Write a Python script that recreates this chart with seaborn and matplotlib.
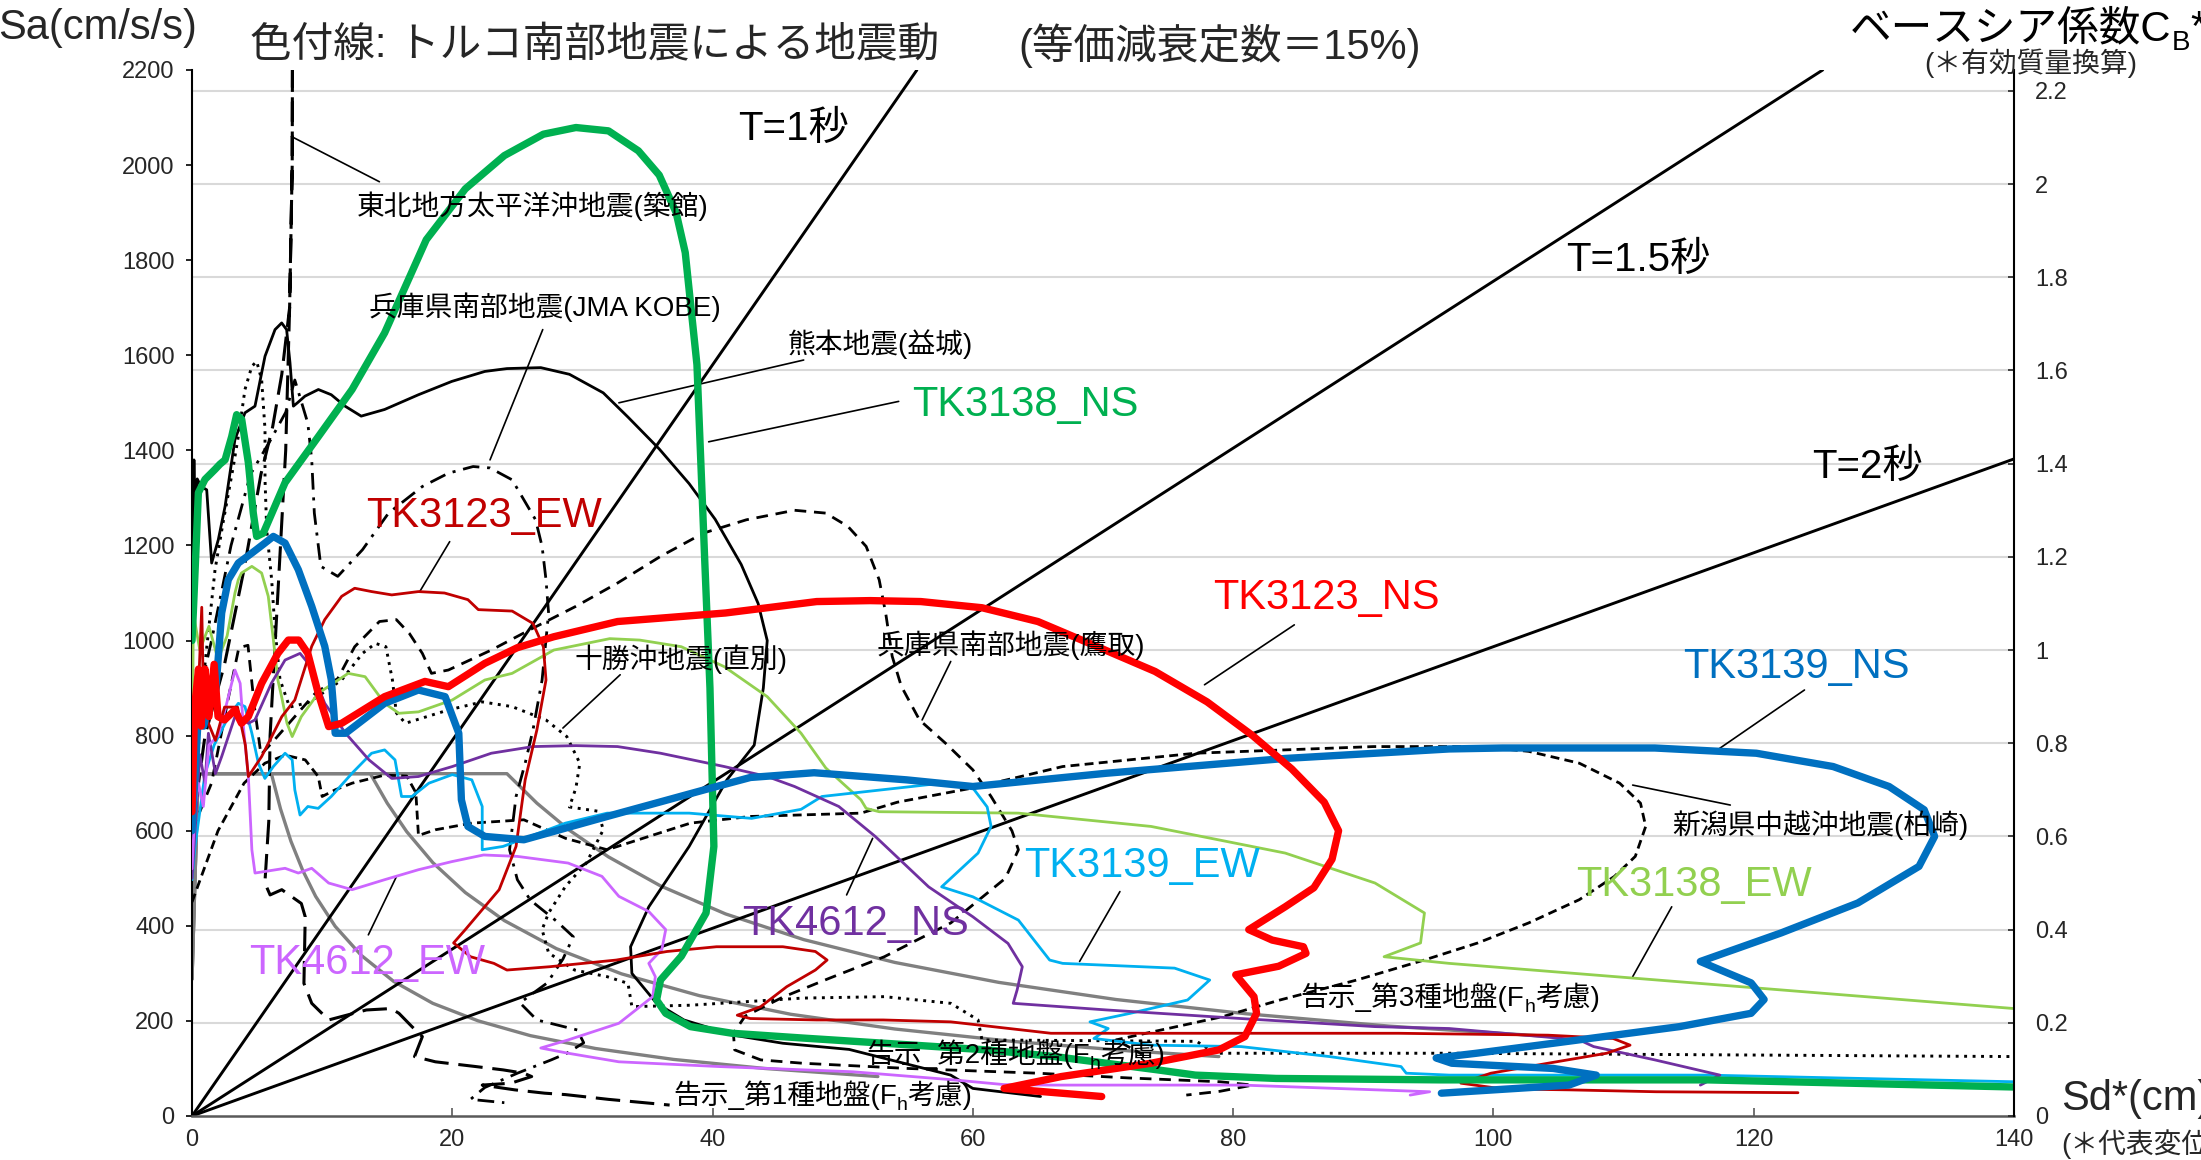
import matplotlib
matplotlib.use('Agg')
import matplotlib.pyplot as plt
import matplotlib.transforms as mtransforms
import seaborn as sns

# ---- axes values
sd_ticks = [0, 20, 40, 60, 80, 100, 120, 140]
sa_ticks = [0, 200, 400, 600, 800, 1000, 1200, 1400, 1600, 1800, 2000, 2200]
cb_ticks = [0, 0.2, 0.4, 0.6, 0.8, 1.0, 1.2, 1.4, 1.6, 1.8, 2.0, 2.2]
cb_labels = ['0', '0.2', '0.4', '0.6', '0.8', '1', '1.2', '1.4', '1.6', '1.8', '2', '2.2']
g = 980  # Sa per unit of CB

# ---- period lines (Sd, Sa)
t1_line = [(0, 0), (55.7, 2200)]
t15_line = [(0, 0), (125.3, 2200)]
t2_line = [(0, 0), (140, 1382)]

# ---- 告示 spectra (gray)
kokuji1 = [(0, 288), (0.47, 720), (6.1, 720), (6.8, 646), (7.6, 578), (8.5, 517), (9.5, 462), (11, 399),
           (13, 338), (15.5, 283), (18.5, 237), (22, 200), (26, 169), (31, 142), (37, 119), (44, 100), (52.7, 83)]
kokuji2 = [(0, 288), (0.47, 720), (13.7, 720), (15, 658), (16.5, 598), (18.5, 533), (21, 470), (24, 411),
           (28, 352), (33, 299), (39, 253), (46, 214), (54, 183), (63, 157), (72, 137), (78.9, 125)]
kokuji3 = [(0, 288), (0.47, 720), (24.2, 720), (26.5, 658), (29, 601), (32, 545), (36, 484), (41, 425),
           (47, 371), (54, 323), (62, 281), (71, 245), (81, 215), (92, 189), (105, 166)]

# ---- reference earthquakes (black)
tohoku = [(0, 600), (1.0, 800), (2.5, 950), (4.0, 1150), (5.3, 1350), (6.2, 1450), (6.9, 1560), (7.5, 1700),
          (7.7, 2000), (7.75, 2600), (7.75, 2600), (7.7, 2000), (7.5, 1700), (7.2, 1400), (6.8, 1200),
          (6.4, 1000), (6.0, 800), (5.9, 620), (5.6, 490), (6.0, 465), (6.9, 476), (8.4, 447), (8.7, 419),
          (8.6, 279), (9.2, 237), (10.5, 202), (13.4, 223), (15.3, 226), (15.9, 216), (16.9, 188), (17.7, 167),
          (17.1, 125), (18.7, 114), (21.8, 104), (23.9, 97), (25.5, 90), (26.1, 83), (24.5, 69), (22.3, 65),
          (24.8, 55), (27.1, 48), (28.7, 45), (32.0, 35), (36.7, 23)]
jma_kobe = [(0, 820), (1.5, 1000), (3.0, 1200), (4.5, 1350), (6.0, 1420), (7.2, 1480), (7.9, 1548), (8.9, 1457),
            (9.2, 1380), (9.4, 1268), (9.9, 1156), (11.2, 1135), (13.1, 1191), (15.1, 1268), (17.7, 1324),
            (19.7, 1352), (21.6, 1366), (22.9, 1363), (24.6, 1338), (25.5, 1296), (26.4, 1254), (26.9, 1198),
            (27.2, 1128), (27.4, 1058), (26.9, 917), (26.2, 812), (25.6, 742), (24.9, 672), (24.4, 560),
            (25.0, 497), (26.0, 454), (28.0, 410), (29.3, 377), (28.5, 330), (27.3, 280), (25.2, 238),
            (26.5, 202), (29.6, 181), (30.1, 154), (28.8, 132), (27.6, 118), (25.0, 90), (22.5, 60),
            (21.4, 35), (24.0, 28)]
kumamoto = [(0, 1100), (0.15, 1380), (0.25, 1250), (0.4, 1340), (0.7, 1324), (1.13, 1317), (1.51, 1163),
            (2.02, 1212), (2.54, 1282), (3.3, 1423), (4.07, 1479), (4.84, 1493), (5.61, 1598), (6.38, 1654),
            (6.89, 1668), (7.27, 1654), (7.53, 1584), (7.79, 1493), (8.1, 1500), (8.68, 1514), (9.71, 1528),
            (10.7, 1517), (11.76, 1493), (13.0, 1472), (14.8, 1486), (17.4, 1517), (19.96, 1545), (22.5, 1566),
            (24.2, 1572), (26.8, 1574), (29.0, 1560), (31.6, 1521), (33.5, 1470), (35.9, 1403), (38.2, 1330),
            (40.2, 1255), (42.2, 1160), (43.5, 1078), (44.2, 1000), (43.9, 900), (43.2, 780), (41.1, 707),
            (38.2, 567), (35.1, 440), (33.7, 356), (33.8, 300), (35.7, 237), (37.8, 202), (41.6, 170),
            (45.4, 153), (50.5, 140), (55.7, 104), (58.3, 86), (60.0, 58), (65.2, 41)]
tokachi = [(0, 700), (0.8, 900), (1.77, 1149), (2.4, 1250), (3.18, 1367), (3.56, 1430), (4.07, 1528), (4.6, 1577),
           (4.97, 1587), (5.35, 1549), (5.61, 1444), (5.61, 1339), (5.74, 1233), (6.12, 1128), (6.38, 1023),
           (6.76, 918), (7.5, 860), (9.0, 870), (11.5, 917), (13.1, 973), (14.1, 994), (14.9, 987), (15.4, 917),
           (15.7, 848), (16.4, 826), (19.7, 854), (22.3, 871), (24.6, 861), (27.2, 833), (28.8, 798),
           (29.8, 742), (29.5, 690), (29.0, 650), (31.2, 641), (31.6, 602), (30.3, 532), (28.7, 483),
           (27.4, 427), (26.9, 392), (27.4, 343), (29.4, 307), (31.9, 293), (33.5, 279), (33.8, 230),
           (38.3, 233), (46.9, 248), (53.2, 251), (58.3, 237), (60.4, 202), (60.7, 160), (77.2, 157),
           (78.6, 132), (96.6, 132), (140, 125)]
takatori = [(0, 600), (1.5, 700), (2.8, 880), (3.6, 985), (4.3, 990), (4.8, 860), (5.3, 760), (6.3, 790),
            (7.9, 840), (9.5, 890), (11.2, 920), (12.5, 987), (14.4, 1040), (15.7, 1044), (16.7, 1015),
            (17.7, 973), (18.4, 931), (19.7, 938), (23.0, 980), (26.2, 1026), (29.5, 1072), (32.7, 1121),
            (36.0, 1177), (39.3, 1226), (42.6, 1254), (46.3, 1274), (48.7, 1268), (50.4, 1240), (51.8, 1198),
            (52.8, 1128), (53.3, 1058), (53.8, 967), (54.5, 904), (55.9, 833), (57.9, 784), (60.0, 728),
            (61.4, 672), (63.0, 600), (63.5, 560), (62.5, 500), (58.3, 406), (55.7, 370), (53.2, 335),
            (49.0, 290), (45.4, 250), (42.5, 210), (41.6, 174), (41.7, 139), (43.7, 118), (46.9, 111),
            (55.0, 100), (65.0, 90), (72.0, 80), (79.0, 72), (81.5, 65), (79.0, 52), (76.4, 44)]
kashiwazaki = [(0, 450), (2.0, 600), (4.0, 700), (5.6, 742), (7.15, 759), (8.7, 749), (9.7, 714), (10.0, 672),
               (11.0, 686), (12.3, 700), (14.8, 717), (16.5, 715), (17.2, 680), (17.4, 590), (18.7, 602),
               (21.5, 616), (25.5, 623), (28.7, 584), (31.9, 560), (38.3, 616), (42.9, 630), (51.4, 637),
               (54.2, 660), (60.0, 690), (66.9, 735), (77.1, 763), (90.8, 777), (98.8, 777), (102.7, 767),
               (106.6, 742), (109.7, 700), (111.3, 658), (111.7, 609), (110.9, 546), (109.3, 504),
               (106.6, 455), (102.7, 406), (98.8, 364), (94.8, 329), (89.5, 286), (83.6, 244), (79.2, 209),
               (73.3, 174), (71.0, 160), (73.0, 130)]

# ---- トルコ南部地震 records (coloured)
tk3138_ns = [(0, 1000), (0.1, 1058), (0.49, 1311), (1.0, 1339), (1.77, 1360), (2.15, 1371), (2.54, 1380),
             (3.05, 1429), (3.43, 1475), (3.82, 1465), (4.33, 1374), (4.71, 1268), (4.97, 1219), (5.48, 1226),
             (7.15, 1332), (9.71, 1429), (12.3, 1528), (14.8, 1647), (18.0, 1843), (21.0, 1950), (24.0, 2020),
             (27.0, 2065), (29.5, 2079), (32.0, 2072), (34.3, 2030), (35.9, 1979), (37.2, 1900), (37.9, 1816),
             (38.8, 1580), (39.4, 1167), (39.8, 900), (40.1, 567), (39.5, 427), (37.6, 336), (36.0, 286),
             (35.7, 244), (36.4, 216), (38.3, 188), (41.5, 174), (46.9, 164), (53.2, 153), (61.1, 139),
             (66.3, 125), (74.2, 97), (77.1, 86), (83.3, 79), (95.9, 76), (116.4, 76), (140, 61)]
tk3138_ew = [(0, 600), (0.1, 1058), (0.6, 980), (1.3, 1030), (2.0, 960), (2.7, 1010), (3.3, 1100), (3.56, 1128),
             (3.8, 1142), (4.6, 1156), (5.35, 1142), (5.86, 1093), (6.25, 1002), (6.6, 917), (6.9, 880),
             (7.3, 826), (7.7, 798), (8.4, 840), (9.7, 889), (12.0, 931), (13.3, 924), (14.8, 868), (15.9, 847),
             (17.4, 850), (20.0, 875), (22.5, 917), (24.6, 931), (27.8, 980), (32.1, 1004), (34.4, 1001),
             (37.6, 987), (40.9, 945), (44.2, 882), (46.8, 805), (48.7, 732), (51.4, 665), (51.8, 647),
             (52.8, 640), (63.5, 637), (73.7, 609), (84.0, 553), (90.9, 490), (94.7, 427), (94.4, 364),
             (91.6, 335), (96.6, 321), (140, 226)]
tk3123_ns = [(0, 640), (0.2, 860), (0.5, 940), (0.7, 820), (1.0, 940), (1.3, 840), (1.7, 950), (2.0, 840),
             (2.5, 833), (3.3, 854), (3.8, 826), (4.33, 840), (5.35, 910), (6.6, 973), (7.4, 1001), (8.2, 1001),
             (8.9, 973), (9.7, 889), (10.5, 819), (11.5, 826), (14.8, 882), (17.9, 914), (19.7, 903), (22.5, 952),
             (25.0, 985), (27.8, 1008), (32.7, 1040), (41.0, 1058), (48.0, 1082), (52.1, 1084), (56.0, 1082),
             (60.7, 1069), (65.0, 1040), (69.4, 989), (74.0, 935), (78.0, 871), (81.5, 800), (84.5, 730),
             (87.0, 660), (88.1, 600), (87.6, 540), (86.2, 480), (84.0, 440), (81.2, 392), (83.0, 370),
             (85.4, 356), (85.6, 342), (83.5, 315), (80.2, 297), (81.6, 251), (81.8, 216), (80.9, 167),
             (78.9, 139), (73.7, 111), (66.8, 83), (62.4, 58), (66.8, 48), (69.9, 41)]
tk3123_ew = [(0, 700), (0.5, 900), (0.75, 1070), (0.9, 850), (1.8, 790), (2.5, 860), (3.5, 860), (4.1, 780),
             (4.33, 714), (5.35, 756), (6.9, 840), (7.9, 875), (9.2, 988), (10.2, 1044), (11.5, 1093),
             (12.5, 1110), (13.8, 1103), (15.35, 1096), (17.4, 1103), (19.4, 1100), (21.2, 1086), (22.0, 1065),
             (24.6, 1062), (26.2, 1036), (27.0, 987), (27.2, 917), (26.5, 812), (25.9, 742), (25.6, 707),
             (24.9, 567), (23.6, 476), (21.0, 392), (20.1, 364), (21.4, 335), (23.2, 321), (24.2, 307),
             (27.5, 314), (32.6, 328), (36.5, 346), (40.3, 356), (45.4, 356), (47.9, 346), (48.8, 328),
             (47.9, 307), (45.7, 272), (43.7, 230), (41.9, 212), (42.9, 205), (48.0, 202), (53.1, 202),
             (58.3, 198), (66.0, 174), (77.7, 174), (92.7, 174), (104.2, 170), (109.2, 163), (110.5, 149),
             (108.7, 132), (104.2, 111), (99.8, 90), (97.5, 69), (100.7, 57), (105.8, 55), (112.5, 51),
             (123.4, 49)]
tk3139_ns = [(0, 600), (0.5, 850), (0.9, 820), (1.3, 870), (1.77, 875), (2.28, 1058), (2.79, 1128), (3.56, 1163),
             (4.6, 1184), (5.6, 1205), (6.25, 1219), (7.15, 1205), (8.17, 1149), (9.2, 1072), (10.2, 988),
             (10.7, 918), (10.9, 850), (11.0, 805), (11.8, 805), (14.8, 868), (17.4, 896), (19.45, 882),
             (20.5, 805), (20.7, 665), (21.2, 609), (22.5, 588), (25.5, 581), (31.9, 630), (39.9, 690),
             (42.9, 712), (47.8, 722), (54.9, 707), (60.0, 693), (70.3, 721), (84.0, 752), (96.6, 772),
             (100.7, 774), (112.4, 774), (120.2, 763), (126.1, 735), (130.4, 693), (133.1, 644), (133.9, 588),
             (132.7, 525), (128.0, 448), (122.1, 385), (115.9, 325), (117.1, 311), (119.8, 280), (120.8, 245),
             (119.8, 216), (114.3, 188), (104.6, 153), (98.7, 132), (95.6, 122), (96.8, 111), (104.6, 100),
             (107.9, 86), (105.8, 65), (96.0, 48)]
tk3139_ew = [(0, 497), (0.23, 567), (0.6, 640), (1.0, 720), (1.7, 780), (2.8, 840), (3.56, 868), (4.07, 861),
             (4.6, 805), (5.1, 742), (5.6, 710), (6.25, 735), (7.15, 763), (7.7, 749), (7.9, 686), (8.3, 633),
             (8.9, 651), (9.7, 647), (10.7, 672), (12.3, 721), (13.8, 763), (14.8, 770), (15.6, 749), (16.1, 672),
             (16.9, 672), (18.2, 700), (20.0, 718), (21.5, 707), (22.3, 651), (22.3, 560), (23.9, 567),
             (28.7, 616), (31.9, 637), (38.2, 637), (43.0, 626), (46.8, 645), (48.4, 672), (57.6, 700),
             (60.0, 690), (61.1, 650), (61.4, 609), (60.4, 553), (57.6, 482), (60.0, 461), (63.5, 412),
             (65.9, 328), (66.9, 321), (75.5, 311), (78.2, 286), (76.5, 244), (72.1, 216), (69.0, 198),
             (70.4, 184), (69.3, 163), (73.7, 149), (80.6, 146), (87.4, 125), (92.9, 104), (93.3, 90),
             (96.6, 86), (116.4, 86), (140, 72)]
tk4612_ns = [(0, 500), (0.6, 760), (1.0, 700), (1.26, 805), (1.8, 720), (2.28, 756), (2.79, 798), (3.3, 840),
             (3.8, 835), (4.33, 826), (4.84, 833), (6.1, 910), (7.15, 959), (8.3, 973), (9.0, 950), (10.2, 868),
             (11.8, 805), (13.6, 749), (15.35, 710), (17.4, 714), (20.0, 735), (23.0, 763), (26.2, 777),
             (29.5, 779), (32.7, 777), (36.0, 763), (40.9, 735), (44.2, 714), (46.3, 693), (49.7, 651),
             (52.5, 588), (56.6, 482), (60.0, 419), (62.7, 363), (63.8, 314), (63.4, 265), (63.1, 237),
             (70.3, 223), (80.6, 205), (90.9, 188), (96.6, 184), (106.6, 160), (107.7, 146), (112.4, 118),
             (117.4, 86), (115.9, 65)]
tk4612_ew = [(0, 520), (0.23, 651), (0.5, 700), (0.87, 651), (1.3, 780), (2.0, 800), (2.54, 854), (3.3, 938),
             (3.7, 910), (3.95, 819), (4.33, 714), (4.6, 560), (4.84, 511), (7.15, 521), (8.17, 511), (9.2, 521),
             (10.5, 490), (12.3, 476), (14.8, 497), (17.4, 518), (19.96, 535), (22.4, 549), (25.0, 546),
             (28.9, 532), (31.5, 504), (32.8, 462), (35.1, 430), (36.4, 392), (36.1, 350), (35.1, 321),
             (35.6, 293), (35.4, 251), (32.8, 195), (28.9, 160), (26.8, 143), (28.9, 132), (32.8, 114),
             (40.5, 104), (50.8, 93), (58.5, 76), (62.4, 66), (66.0, 65), (80.7, 65), (95.1, 51), (93.6, 44)]

# ---- leader lines and labels
leaders = [[(7.65, 2060), (14.4, 1965)], [(26.95, 1654), (22.9, 1380)], [(47.0, 1590), (32.8, 1500)],
           [(54.3, 1503), (39.7, 1418)], [(19.8, 1208), (17.5, 1103)], [(84.7, 1033), (77.8, 907)],
           [(58.3, 956), (56.1, 833)], [(32.9, 928), (28.5, 816)], [(123.9, 896), (117.0, 766)],
           [(118.2, 654), (110.7, 696)], [(113.7, 440), (110.7, 293)], [(71.3, 472), (68.2, 325)],
           [(52.3, 584), (50.3, 465)], [(13.55, 381), (15.7, 503)]]
quake_labels = ['東北地方太平洋沖地震(築館)', '兵庫県南部地震(JMA KOBE)', '熊本地震(益城)', '兵庫県南部地震(鷹取)',
                '十勝沖地震(直別)', '新潟県中越沖地震(柏崎)']
quake_pos = [(26.2, 1914), (27.1, 1702), (52.9, 1624), (62.9, 991), (37.6, 961), (125.1, 612)]
tk_labels = ['TK3138_NS', 'TK3123_EW', 'TK3123_NS', 'TK3139_NS', 'TK3138_EW', 'TK3139_EW', 'TK4612_NS', 'TK4612_EW']
tk_pos = [(64.0, 1496), (22.4, 1262), (87.2, 1090), (123.3, 945), (115.4, 486), (73.0, 526), (51.0, 404), (13.45, 322)]
tk_colors = ['#00B050', '#C00000', '#FF0000', '#0070C0', '#92D050', '#00B0F0', '#7030A0', '#CC66FF']
period_labels = ['T=1秒', 'T=1.5秒', 'T=2秒']
period_pos = [(46.2, 2077), (111.1, 1801), (128.7, 1365)]
kokuji_names = ['告示_第1種地盤(F', '告示_第2種地盤(F', '告示_第3種地盤(F']
kokuji_pos = [(36.97, 25), (51.8, 111), (85.2, 231)]

# ---- style
sns.set_theme(style='white')
plt.rcParams['font.family'] = ['Liberation Sans', 'Noto Sans CJK JP', 'DejaVu Sans']

W, H = 2201, 1160
fig = plt.figure(figsize=(W / 100, H / 100), dpi=100)
ax = fig.add_axes([192 / W, 44 / H, 1822 / W, 1046 / H])


def draw(points, color, lw, ls='-', z=3):
    xs = [p[0] for p in points]
    ys = [p[1] for p in points]
    sns.lineplot(x=xs, y=ys, sort=False, estimator=None, color=color, linewidth=lw,
                 linestyle=ls, ax=ax, zorder=z, solid_joinstyle='round', dash_joinstyle='round')


# gray 告示 curves
for k in (kokuji1, kokuji2, kokuji3):
    draw(k, '#808080', 2.4, z=2)
# period lines
for t in (t1_line, t15_line, t2_line):
    draw(t, 'black', 2.1, z=2)
# black reference earthquakes
draw(tohoku, 'black', 2.2, (0, (8, 3.2)))
draw(jma_kobe, 'black', 2.0, (0, (6, 2.8, 1.1, 2.8)))
draw(kumamoto, 'black', 2.0)
draw(tokachi, 'black', 2.1, (0, (1, 1.9)))
draw(takatori, 'black', 2.0, (0, (4.2, 2.8)))
draw(kashiwazaki, 'black', 2.0, (0, (3.2, 1.9)))
# leader lines
for ld in leaders:
    draw(ld, 'black', 1.2, z=3)
# thin coloured
draw(tk3138_ew, '#92D050', 2.0, z=4)
draw(tk3139_ew, '#00B0F0', 2.0, z=4)
draw(tk4612_ns, '#7030A0', 2.0, z=4)
draw(tk4612_ew, '#CC66FF', 2.0, z=4)
draw(tk3123_ew, '#C00000', 2.0, z=4)
# thick coloured
draw(tk3138_ns, '#00B050', 5.3, z=5)
draw(tk3139_ns, '#0070C0', 5.3, z=5)
draw(tk3123_ns, '#FF0000', 5.3, z=6)

# ---- axes
ax.set_xlim(sd_ticks[0], sd_ticks[-1])
ax.set_ylim(sa_ticks[0], sa_ticks[-1])
ax.set_xticks(sd_ticks)
ax.set_yticks(sa_ticks)
ax.set_yticks([c * g for c in cb_ticks[1:]], minor=True)
ax.set_xlabel('')
ax.set_ylabel('')
ax.grid(False)
ax.grid(which='minor', axis='y', color='#D9D9D9', linewidth=1.5)
ax.set_axisbelow(True)
ax.tick_params(axis='x', which='major', bottom=True, direction='in', length=6, width=1.2,
               color='#595959', labelsize=17, pad=9)
ax.tick_params(axis='y', which='major', left=True, direction='out', length=4.5, width=1.2,
               color='black', labelsize=17, pad=8)
ax.tick_params(axis='y', which='minor', left=False, length=0)
for side in ('top', 'right'):
    ax.spines[side].set_visible(False)
ax.spines['left'].set_color('black')
ax.spines['left'].set_linewidth(1.5)
ax.spines['bottom'].set_color('#595959')
ax.spines['bottom'].set_linewidth(1.8)

ax2 = ax.twinx()
ax2.set_ylim(0, sa_ticks[-1] / g)
ax2.set_yticks(cb_ticks)
ax2.set_yticklabels(cb_labels)
ax2.grid(False)
ax2.tick_params(axis='y', right=True, direction='in', length=4, width=1.2, labelsize=17, pad=15)
for side in ('top', 'left', 'bottom'):
    ax2.spines[side].set_visible(False)
ax2.spines['right'].set_color('black')
ax2.spines['right'].set_linewidth(1.5)

# ---- labels on the plot
for s, (x, y) in zip(quake_labels, quake_pos):
    ax.text(x, y, s, fontsize=20, ha='center', va='center', color='black', zorder=8)
for s, (x, y), c in zip(tk_labels, tk_pos, tk_colors):
    ax.text(x, y, s, fontsize=30, ha='center', va='center', color=c, zorder=8)
for s, (x, y) in zip(period_labels, period_pos):
    ax.text(x, y, s, fontsize=29, ha='center', va='center', color='black', zorder=8)

renderer = fig.canvas.get_renderer()


def chain_text(x, y, parts, transform):
    # place text pieces one after another on a shared baseline
    offset = 0.0
    for s, size, dy in parts:
        tr = mtransforms.offset_copy(transform, fig=fig, x=offset, y=dy, units='dots')
        t = fig.text(x, y, s, transform=tr, fontsize=size, ha='left', va='baseline', color='black', zorder=9)
        offset += t.get_window_extent(renderer).width


for s, (x, y) in zip(kokuji_names, kokuji_pos):
    chain_text(x, y, [(s, 20, 0), ('h', 14, -6), ('考慮)', 20, 0)], ax.transData)

# ---- figure texts (pixel positions from the top-left corner)
def fx(px):
    return px / W


def fy(py):
    return 1 - py / H


fig.text(fx(-2), fy(28), 'Sa(cm/s/s)', fontsize=30, ha='left', va='center')
fig.text(fx(250), fy(46), '色付線: トルコ南部地震による地震動', fontsize=30, ha='left', va='center')
fig.text(fx(1018), fy(46), '(等価減衰定数＝15%)', fontsize=30, ha='left', va='center')
chain_text(fx(1850), fy(40), [('ベースシア係数C', 30, 0), ('B', 20, -10), ('*', 30, 0)], fig.transFigure)
fig.text(fx(1924), fy(63), '(＊有効質量換算)', fontsize=20, ha='left', va='center')
fig.text(fx(2061), fy(1099), 'Sd*(cm)', fontsize=30, ha='left', va='center')
fig.text(fx(2061), fy(1144), '(＊代表変位換算)', fontsize=20, ha='left', va='center')

fig.savefig('out.png', dpi=100)
